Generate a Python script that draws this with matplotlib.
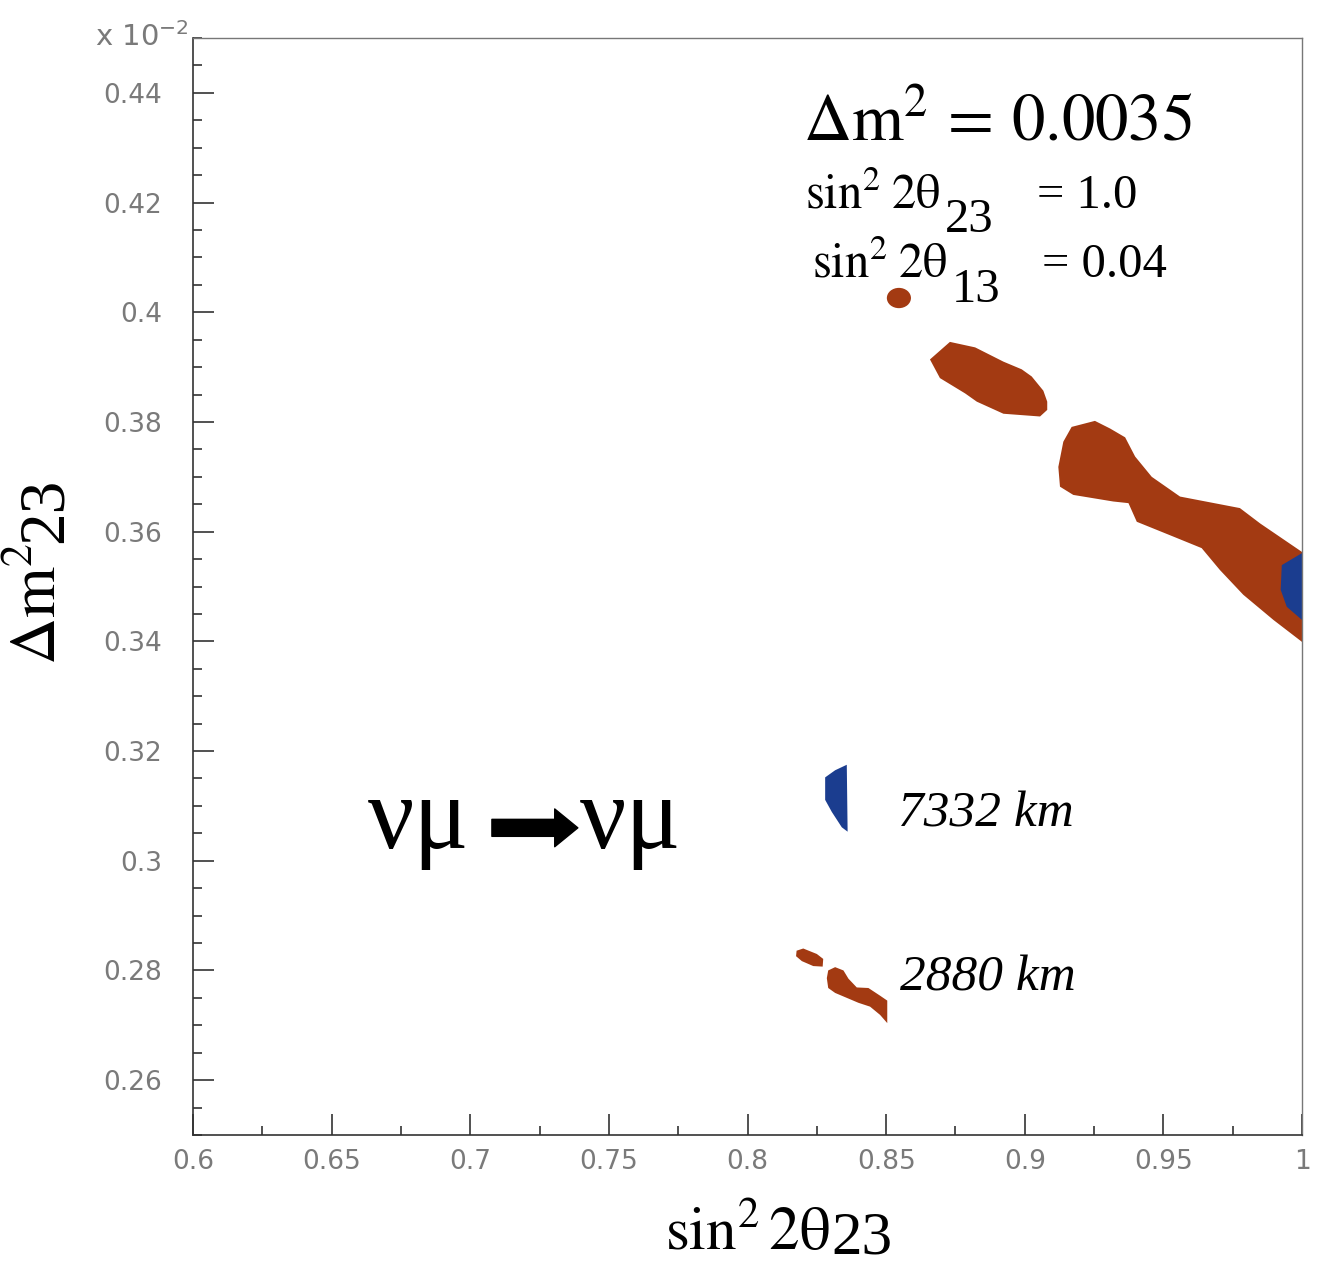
import numpy as np
import matplotlib.pyplot as plt
from matplotlib.patches import Ellipse
from matplotlib.ticker import MultipleLocator, FormatStrFormatter

# allowed regions, sin^2 2theta_23 vs dm^2_23 (units of 1e-2 eV^2)
# 2880 km baseline (red)
red_a_x = [0.8658, 0.8730, 0.8821, 0.8923, 0.8989, 0.9025, 0.9067, 0.9081,
           0.9081, 0.9055, 0.8923, 0.8827, 0.8785, 0.8694]
red_a_y = [0.3914, 0.3946, 0.3936, 0.3910, 0.3896, 0.3883, 0.3857, 0.3837,
           0.3822, 0.3810, 0.3815, 0.3837, 0.3852, 0.3880]

red_b_x = [0.9169, 0.9253, 0.9308, 0.9362, 0.9398, 0.9458, 0.9560, 0.9776,
           0.9849, 1.0000, 1.0000, 0.9897, 0.9788, 0.9704, 0.9638, 0.9536,
           0.9404, 0.9374, 0.9319, 0.9175, 0.9127, 0.9121, 0.9139]
red_b_y = [0.3791, 0.3802, 0.3788, 0.3772, 0.3737, 0.3700, 0.3664, 0.3643,
           0.3615, 0.3563, 0.3399, 0.3439, 0.3485, 0.3530, 0.3570, 0.3591,
           0.3618, 0.3652, 0.3655, 0.3667, 0.3682, 0.3718, 0.3764]

red_c_x = [0.8177, 0.8201, 0.8250, 0.8273, 0.8271, 0.8237, 0.8196, 0.8175]
red_c_y = [0.2836, 0.2840, 0.2830, 0.2821, 0.2807, 0.2808, 0.2817, 0.2826]

red_d_x = [0.8291, 0.8316, 0.8346, 0.8364, 0.8394, 0.8436, 0.8478, 0.8504,
           0.8504, 0.8478, 0.8442, 0.8400, 0.8358, 0.8316, 0.8291, 0.8286]
red_d_y = [0.2800, 0.2806, 0.2800, 0.2785, 0.2769, 0.2768, 0.2754, 0.2745,
           0.2704, 0.2719, 0.2734, 0.2741, 0.2750, 0.2759, 0.2768, 0.2786]

red_dot_center = (0.8546, 0.4026)
red_dot_size = (0.0087, 0.0037)

# 7332 km baseline (blue)
blue_a_x = [0.8280, 0.8316, 0.8358, 0.8361, 0.8340, 0.8304, 0.8280]
blue_a_y = [0.3152, 0.3165, 0.3175, 0.3053, 0.3061, 0.3089, 0.3111]

blue_b_x = [1.0000, 0.9927, 0.9923, 0.9945, 1.0000]
blue_b_y = [0.3561, 0.3539, 0.3494, 0.3463, 0.3439]

RED = "#a33a12"
BLUE = "#1b3d8f"
GRAY = "#7a7a7a"

fig = plt.figure(figsize=(13.24, 12.68), dpi=100)
ax = fig.add_axes([0.1458, 0.1049, 0.8376, 0.8651])

for xs, ys in [(red_a_x, red_a_y), (red_b_x, red_b_y), (red_c_x, red_c_y), (red_d_x, red_d_y)]:
    ax.fill(xs, ys, color=RED, lw=0)
ax.add_patch(Ellipse(red_dot_center, *red_dot_size, color=RED, lw=0))
for xs, ys in [(blue_a_x, blue_a_y), (blue_b_x, blue_b_y)]:
    ax.fill(xs, ys, color=BLUE, lw=0)

ax.set_xlim(0.6, 1.0)
ax.set_ylim(0.25, 0.45)

ax.xaxis.set_major_locator(MultipleLocator(0.05))
ax.xaxis.set_minor_locator(MultipleLocator(0.025))
ax.yaxis.set_major_locator(MultipleLocator(0.02))
ax.yaxis.set_minor_locator(MultipleLocator(0.005))
ax.xaxis.set_major_formatter(FormatStrFormatter("%g"))
ax.yaxis.set_major_formatter(FormatStrFormatter("%g"))

ax.tick_params(which="both", direction="in", color="#333333", width=1.2,
               labelcolor=GRAY, labelsize=19, top=False, right=False)
ax.tick_params(which="major", length=15)
ax.tick_params(which="minor", length=6.5)
ax.tick_params(axis="x", pad=10)
ax.tick_params(axis="y", pad=22)

for side in ["left", "bottom"]:
    ax.spines[side].set_color("#333333")
    ax.spines[side].set_linewidth(1.2)
for side in ["top", "right"]:
    ax.spines[side].set_color("#777777")
    ax.spines[side].set_linewidth(1.0)

fig.text(95 / 1324, 1 - 46 / 1268, r"x 10$^{-2}$", fontsize=21, color=GRAY,
         va="baseline", math_fontfamily="dejavusans")

serif = ["Liberation Serif", "DejaVu Serif"]

# parameter block
ax.text(0.8200, 0.4314, r"$\Delta\mathrm{m}^2\,=\,0.0035$", fontsize=48,
        math_fontfamily="stix", va="baseline")

row_label = r"$\mathrm{sin}^2\;2\mathrm{\theta}$"
t23 = ax.text(0.8207, 0.4190, row_label, fontsize=35, math_fontfamily="stix", va="baseline")
ax.annotate("23", xy=(1, 0.4146), xycoords=(t23, "data"), xytext=(3, 0),
            textcoords="offset points", fontsize=35, family=serif, va="baseline")
ax.text(0.9044, 0.4190, "= 1.0", fontsize=35, family=serif, va="baseline")

t13 = ax.text(0.8233, 0.4064, row_label, fontsize=35, math_fontfamily="stix", va="baseline")
ax.annotate("13", xy=(1, 0.4019), xycoords=(t13, "data"), xytext=(3, 0),
            textcoords="offset points", fontsize=35, family=serif, va="baseline")
ax.text(0.9062, 0.4064, "= 0.04", fontsize=35, family=serif, va="baseline")

# baselines
ax.text(0.8543, 0.3062, "7332 km", fontsize=37, family=serif, style="italic", va="baseline")
ax.text(0.8550, 0.2764, "2880 km", fontsize=37, family=serif, style="italic", va="baseline")

# channel
ax.text(0.6631, 0.3023, "νμ", fontsize=74, family=serif, va="baseline")
ax.text(0.7396, 0.3023, "νμ", fontsize=74, family=serif, va="baseline")
ax.annotate("", xy=(0.7388, 0.3060), xytext=(0.7078, 0.3060),
            arrowprops=dict(arrowstyle="simple,head_length=0.98,head_width=1.6,tail_width=0.72",
                            fc="black", ec="black", mutation_scale=17, shrinkA=0, shrinkB=0))

# axis titles
xl = fig.text(665 / 1324, 1 - 1250 / 1268, r"$\mathrm{sin}^2\,2\mathrm{\theta}$", fontsize=44,
              math_fontfamily="stix", va="baseline")
ax.annotate("23", xy=(1, 14), xycoords=(xl, "figure pixels"), xytext=(1, 0),
            textcoords="offset points", fontsize=44, family=serif, va="baseline",
            annotation_clip=False)

yl = fig.text(70 / 1324, 1 - 665 / 1268, r"$\Delta\mathrm{m}^2$", fontsize=47,
              math_fontfamily="stix", rotation=90, ha="right", va="bottom")
ax.annotate("23", xy=(1, 1), xycoords=yl, xytext=(4, 0), textcoords="offset points",
            fontsize=47, family=serif, rotation=90, ha="right", va="bottom",
            annotation_clip=False)

fig.savefig("out.png", dpi=100, facecolor="white")
